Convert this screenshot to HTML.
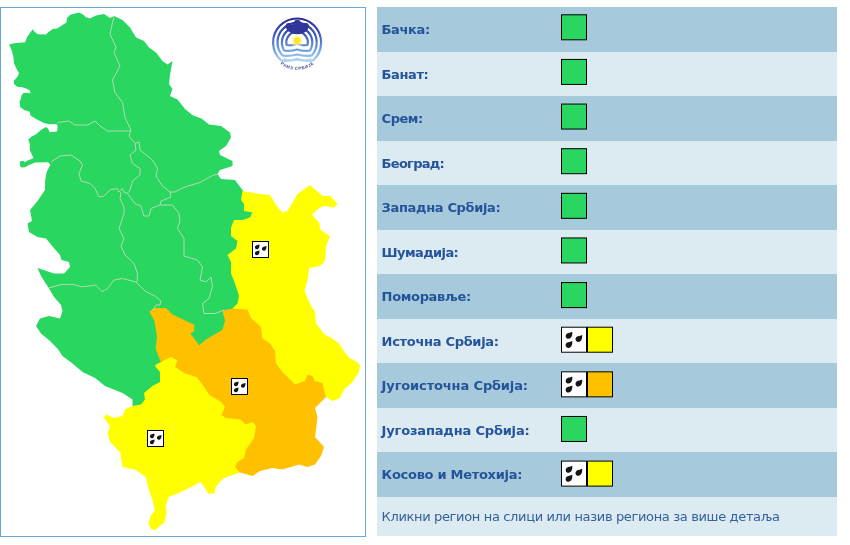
<!DOCTYPE html>
<html lang="sr"><head><meta charset="utf-8"><title>Упозорења</title>
<style>
html,body{margin:0;padding:0;background:#fff}
body{width:850px;height:545px;position:relative;overflow:hidden;font-family:"DejaVu Sans","Liberation Sans",sans-serif}
#map{position:absolute;left:0;top:7px;width:364px;height:528px;border:1px solid #6aa8da;background:#fff;overflow:hidden}
#tbl{position:absolute;left:377.300px;top:0;width:459.700px;height:545px}
.row{position:absolute;left:0;width:100%;height:44.500px}
.lb{position:absolute;left:4.300px;top:0;height:44.500px;line-height:45.500px;font-size:13px;font-weight:bold;color:#24549a;white-space:nowrap}
.sq{position:absolute;width:24px;height:24px;border:1px solid #000}
#ft{position:absolute;left:0;top:496.800px;width:100%;height:39.500px;background:#dceaf2}
#ft span{position:absolute;left:4.300px;top:0;line-height:39.500px;font-size:13px;color:#35619a;white-space:nowrap;letter-spacing:-0.350px}
</style></head><body>
<div id="map"><svg width="364" height="528" viewBox="1 8 364 528" style="position:absolute;left:1px;top:1px">
<g>
<polygon points="8.15,43.4 13.1,42.3 24.1,41.2 26.3,35.7 31.8,28.2 34,31.3 36.8,33.3 45,33.5 47.2,31.3 51.6,28 56,27.5 60.4,24.7 65.4,21.4 66.1,17 69.2,13.7 78,11.5 82.4,13.7 84.6,15.9 88.8,17.55 95,14.5 103,13 109,17 113,15 121.5,19 129,26.5 135,36.5 143,40 148,46.5 155,51.5 161.5,60 166.5,63.5 171.5,60 169,74 168,83 171.5,88 169,95 176.5,98.5 184,108 192,114.5 200.5,117.5 208,123.5 220,125 229,131.5 230,136.5 225,145 218,150 219,154 231.5,160 231.5,165 219,169 216.5,173 220,178 234,179 241.5,189 246,196 247,206 255,209 253,219 245,223 236,223 234,231 240,239 239,249 231,255 234,261 234,272 238,282 242,295 240,305 235,311 226,313 228,320 225,331 207,342 198,349 185,333 189,328 170,318 164,311 155,311 153,312 157,320 160,335 159,348 164,360 159,366 163,371 163,383 154,388 147,394 148,399 142,407 135,408 131.5,405 131.5,398.5 121.5,392 104,385 94,377 81.5,371 71.5,362.5 61.5,355 56.5,347.5 49,340 40,332.5 35,325 39,317.5 48,315 59,317.5 61.5,310 60,304 53,296 48,287.5 40,275 36.5,267 53,272.5 63,272.5 69,266 68,261 60.5,259 59,254 52,246 45,237.5 36.5,236 28,231 26.5,222.5 31,220 29,209 36.5,200 44,189 44.2,179 45.7,171 49.4,163.6 47,161.2 34,161.5 27.5,164.3 24,166.3 20.5,166.5 19,165 19,160.5 22.2,159.8 23.9,161.3 26.6,159.5 32.5,157.3 31.8,155.5 28.8,149 28.8,143 27.3,138.6 30.3,135.7 34.7,133.5 40.6,128.4 45,126 47,127.6 48.6,131.3 56,130.5 56.7,125.4 56,123.2 48,123.2 43,122 35,118 29.5,114.4 28.8,110.7 23.7,109.3 19.3,106.3 18.5,100 19.55,98.95 20.65,94 22.85,91.8 29.45,92.35 28.9,89.6 25.05,87.4 21.2,86.3 16.25,85.75 12.95,83 12.95,79.7 16.8,75.3 17.9,72 15.7,68.15 12.95,62.1 12.4,55.5 10.75,49.45" fill="#29d660"/>
<polygon points="241.5,190 259,193 269,194 275,204 281.5,211.5 286.5,210 291.5,201.5 296.5,193 309,184 321.5,195 329,195 336.5,203 333,206.5 324,205 319,206.5 311,213.5 314.3,217.5 318.3,221.8 319,228.2 323,231.2 329,235.3 325,245 324.2,258.5 322.5,262.3 318,265.3 308.3,267 306.5,279 303.5,290 308,301 314,311 315,322.5 323.7,333.5 330.8,337.3 338,342.5 342.6,349.8 348.4,357 355.8,360.8 359,364.7 358,371 351.5,381 343,388.5 339,397 331.5,400 325,396 319,399 299,391 274,377 264,351 249,326 239,312 231.5,307.5 236.5,302.5 238,295 234,282.5 230,272.5 230,261 226.5,254 235,247.5 236.5,240 230,235 230,226.5 233,219 241.5,219 249,216.5 251.5,211.5 243,210 243,203 240,199 241.5,190" fill="#ffff00"/>
<polygon points="231.5,307.5 246.5,308.5 250,317 260,326 261.5,337.5 269,342.5 274,350 275,362.5 281.5,371 294,383.5 304,380 306.5,373.5 311.5,375 314,380 321.5,382 323,388.5 325,396 314,407 316.5,416 314,436 323,446 320,455 314,463.5 306.5,466 298,463.5 281.5,468.5 271.5,467 259,470 251.5,475 239,471.5 231,467 229,454 239,439 239,427 219,421 214,404 199,394 189,379 171,369 167,361 159.5,360.5 154.7,348 156,335.2 153.4,319.8 148.3,310.8 153.4,307 165,307 171.4,313.4 193.2,323.7 193.2,330 189.4,332.7 198.4,344.2 205,338.5 221.5,328.8 224,319.8 221.5,309.5" fill="#ffc000"/>
<polygon points="155,363.5 170,356 176.5,359.6 174,366 184,372.5 196,376.3 203.5,386.6 208.6,394.3 220,400.7 224,406 220.5,414 225,417 239,418.5 245,423.5 251.5,421 255,425 253,437 245,448.5 243,457 236.5,461 234,466 239,471.5 231.5,474 222,477.5 214.5,486 213.6,492.5 207,492.5 204,487 199.5,481 192,485 179,491.5 167.5,496 164.6,505 165.6,510.5 163.7,521 154,529 149.6,528 147.7,521.7 149.6,515 154,509.5 151.5,499 147.7,488 145,476.5 135,469 121.5,466 119,451 109,441 106.5,432 109,425 103,417 105,413.5 113,417 121.5,415 124,408.5 131.5,405 140,403.5 144,398.5 143,392 151.5,385 159,381 159,371 154,365" fill="#ffff00"/>
<g fill="none" stroke="#b2dbae" stroke-width="1" stroke-linejoin="round">
<polyline points="113,15 109,33 115,46.5 113,51.5 119,65 111.5,79 114,91.5 121.5,101.5 124,116.5 130,129 128,135 134,142.5 138,141 139,149 151.5,159 156.5,167.5 155,175 161.5,185 169,191 174,191 180,187.7 187,185 199,181.5 211.5,174.5 216.5,173"/><polyline points="56.5,121.5 68,120 74,124 86.5,124 94,120 99,125 106.5,130 119,130 129,130"/><polyline points="134,142.5 135,149 129,154 131.5,162.5 139,167.5 139,174 131.5,180 129,189 126.5,192.5 134,202.5 140,205 143,215 148,215 150,207.5 159,204 160,200 170,196 169,191"/><polyline points="50,161 59,155 70,154 79,160 81.5,164 78,172.5 80,180 89,182.5 94,187.5 98,196 103,195 109,189 116.5,187.5 118,191 121.5,187.5 123,191 126.5,192.5"/><polyline points="120,191 119,197.5 123,206 123,212.5 118,227.5 123,237.5 120,245 124,254 133,262.5 136.5,272.5 136,281"/><polyline points="159,204 171.5,204 178,212.5 179,220 176.5,227.5 183,237.5 183,255 196.5,259 201.5,266 199,279 205,281 210,276 211.5,285 208,297.5 201.5,302.5 203,312.5 214,312.5 223,309"/><polyline points="48,287 60,283.5 72,283.3 80.5,285.8 91,284.6 94.5,284 101,290.5 106.5,287.8 113,279 121.5,277.5 135,281 144,290 154,295 160,300 159,304 155,304 151.5,309"/>
</g>
</g>
<rect x="251.5" y="240.5" width="16" height="16" fill="#fff" stroke="#000" stroke-width="1"/><path d="M258.40,243.52 C258.75,245.37 258.05,248.28 255.85,248.28 C253.82,248.28 253.38,245.90 254.70,244.84 C255.76,244.05 257.52,244.14 258.40,243.52Z" fill="#161616"/><path d="M265.40,245.02 C265.75,246.87 265.05,249.78 262.85,249.78 C260.82,249.78 260.38,247.40 261.70,246.34 C262.76,245.55 264.52,245.64 265.40,245.02Z" fill="#161616"/><path d="M258.40,249.42 C258.75,251.27 258.05,254.18 255.85,254.18 C253.82,254.18 253.38,251.80 254.70,250.74 C255.76,249.95 257.52,250.04 258.40,249.42Z" fill="#161616"/><rect x="230.5" y="377.5" width="16" height="16" fill="#fff" stroke="#000" stroke-width="1"/><path d="M237.40,380.52 C237.75,382.37 237.05,385.28 234.85,385.28 C232.82,385.28 232.38,382.90 233.70,381.84 C234.76,381.05 236.52,381.14 237.40,380.52Z" fill="#161616"/><path d="M244.40,382.02 C244.75,383.87 244.05,386.78 241.85,386.78 C239.82,386.78 239.38,384.40 240.70,383.34 C241.76,382.55 243.52,382.64 244.40,382.02Z" fill="#161616"/><path d="M237.40,386.42 C237.75,388.27 237.05,391.18 234.85,391.18 C232.82,391.18 232.38,388.80 233.70,387.74 C234.76,386.95 236.52,387.04 237.40,386.42Z" fill="#161616"/><rect x="146.5" y="429.5" width="16" height="16" fill="#fff" stroke="#000" stroke-width="1"/><path d="M153.40,432.52 C153.75,434.37 153.05,437.28 150.85,437.28 C148.82,437.28 148.38,434.90 149.70,433.84 C150.76,433.05 152.52,433.14 153.40,432.52Z" fill="#161616"/><path d="M160.40,434.02 C160.75,435.87 160.05,438.78 157.85,438.78 C155.82,438.78 155.38,436.40 156.70,435.34 C157.76,434.55 159.52,434.64 160.40,434.02Z" fill="#161616"/><path d="M153.40,438.42 C153.75,440.27 153.05,443.18 150.85,443.18 C148.82,443.18 148.38,440.80 149.70,439.74 C150.76,438.95 152.52,439.04 153.40,438.42Z" fill="#161616"/>
<g transform="translate(-1.1,-0.5)">
<defs><linearGradient id="lg" gradientUnits="userSpaceOnUse" x1="0" y1="18" x2="0" y2="62"><stop offset="0" stop-color="#2b2f96"/><stop offset="0.35" stop-color="#3b55b8"/><stop offset="0.7" stop-color="#6f9fe0"/><stop offset="1" stop-color="#b5d6f5"/></linearGradient>
<radialGradient id="sg" gradientUnits="userSpaceOnUse" cx="297.2" cy="40" r="8"><stop offset="0.3" stop-color="#fff27a"/><stop offset="1" stop-color="#ffffff" stop-opacity="0"/></radialGradient></defs>
<path d="M281.14,59.84 A24.00,24.00 0 1 1 313.26,59.84 Q306.03,61.28 297.20,58.94 Q288.37,61.28 281.14,59.84Z" fill="none" stroke="url(#lg)" stroke-width="2.2" stroke-linejoin="round"/>
<path d="M282.41,54.86 A19.60,19.60 0 1 1 311.99,54.86 Q305.34,56.30 297.20,53.96 Q289.06,56.30 282.41,54.86Z" fill="none" stroke="url(#lg)" stroke-width="2.2" stroke-linejoin="round"/>
<path d="M284.17,49.83 A15.20,15.20 0 1 1 310.23,49.83 Q304.37,51.27 297.20,48.93 Q290.03,51.27 284.17,49.83Z" fill="none" stroke="url(#lg)" stroke-width="2.2" stroke-linejoin="round"/>
<path d="M286.64,44.25 A10.80,10.80 0 1 1 307.76,44.25 Q303.01,45.69 297.20,43.35 Q291.39,45.69 286.64,44.25Z" fill="none" stroke="url(#lg)" stroke-width="2.2" stroke-linejoin="round"/>
<path d="M283.5,58.300 Q290,60.800 297.200,57.800 Q304.500,60.800 311,58.300" fill="none" stroke="#b5d6f5" stroke-width="1.6"/>
<circle cx="297.2" cy="40" r="8" fill="url(#sg)"/>
<path d="M285.8,24.800 Q286.500,22.100 289.300,22.500 Q291.700,22.300 292.800,24.300 Q294,19.300 297.400,19.200 Q300.800,19.300 302,24.300 Q303.100,22.300 305.500,22.500 Q308.300,22.100 309,24.800 Q309.200,28 307.200,30 Q303.500,33.700 297.400,33.700 Q291.300,33.700 287.600,30 Q285.600,28 285.800,24.800Z" fill="#30359a"/>
<polygon points="297.20,35.70 298.23,37.51 300.24,36.96 299.69,38.97 301.50,40.00 299.69,41.03 300.24,43.04 298.23,42.49 297.20,44.30 296.17,42.49 294.16,43.04 294.71,41.03 292.90,40.00 294.71,38.97 294.16,36.96 296.17,37.51" fill="#ffe61e"/>
<path id="lt" d="M276.91,60.27 A27.3,27.3 0 0 0 317.49,60.27" fill="none"/>
<text font-family="'Liberation Sans',sans-serif" font-size="4.200" font-weight="bold" fill="#3b3f8c" letter-spacing="0.600" text-anchor="middle"><textPath href="#lt" startOffset="50.5%">РХМЗ СРБИЈЕ</textPath></text>
</g>
</svg></div>
<div id="tbl">
<div class="row" style="top:7.3px;background:#a6c9dc"><span class="lb" style="letter-spacing:-0.381px">Бачка:</span></div>
<div class="row" style="top:51.8px;background:#dceaf2"><span class="lb" style="letter-spacing:-0.394px">Банат:</span></div>
<div class="row" style="top:96.3px;background:#a6c9dc"><span class="lb" style="letter-spacing:-0.500px">Срем:</span></div>
<div class="row" style="top:140.8px;background:#dceaf2"><span class="lb" style="letter-spacing:-0.719px">Београд:</span></div>
<div class="row" style="top:185.3px;background:#a6c9dc"><span class="lb" style="letter-spacing:-0.340px">Западна Србија:</span></div>
<div class="row" style="top:229.8px;background:#dceaf2"><span class="lb" style="letter-spacing:-0.596px">Шумадија:</span></div>
<div class="row" style="top:274.3px;background:#a6c9dc"><span class="lb" style="letter-spacing:-0.331px">Поморавље:</span></div>
<div class="row" style="top:318.8px;background:#dceaf2"><span class="lb" style="letter-spacing:-0.298px">Источна Србија:</span></div>
<div class="row" style="top:363.3px;background:#a6c9dc"><span class="lb" style="letter-spacing:-0.136px">Југоисточна Србија:</span></div>
<div class="row" style="top:407.8px;background:#dceaf2"><span class="lb" style="letter-spacing:-0.173px">Југозападна Србија:</span></div>
<div class="row" style="top:452.3px;background:#a6c9dc"><span class="lb" style="letter-spacing:-0.286px">Косово и Метохија:</span></div>
<div id="ft"><span>Кликни регион на слици или назив региона за више детаља</span></div>
</div>
<svg width="850" height="545" viewBox="0 0 850 545" style="position:absolute;left:0;top:0"><rect x="561.50" y="14.80" width="25" height="25" fill="#29d660" stroke="#000" stroke-width="1"/><rect x="561.50" y="59.43" width="25" height="25" fill="#29d660" stroke="#000" stroke-width="1"/><rect x="561.50" y="104.06" width="25" height="25" fill="#29d660" stroke="#000" stroke-width="1"/><rect x="561.50" y="148.69" width="25" height="25" fill="#29d660" stroke="#000" stroke-width="1"/><rect x="561.50" y="193.32" width="25" height="25" fill="#29d660" stroke="#000" stroke-width="1"/><rect x="561.50" y="237.95" width="25" height="25" fill="#29d660" stroke="#000" stroke-width="1"/><rect x="561.50" y="282.58" width="25" height="25" fill="#29d660" stroke="#000" stroke-width="1"/><rect x="561.50" y="327.21" width="25" height="25" fill="#fff" stroke="#000" stroke-width="1"/><rect x="587.50" y="327.21" width="25" height="25" fill="#ffff00" stroke="#000" stroke-width="1"/><path d="M572.25,331.80 C572.77,334.53 571.73,338.82 568.48,338.82 C565.49,338.82 564.84,335.31 566.79,333.75 C568.35,332.58 570.95,332.71 572.25,331.80Z" fill="#161616"/><path d="M582.10,334.90 C582.62,337.63 581.58,341.92 578.33,341.92 C575.34,341.92 574.69,338.41 576.64,336.85 C578.20,335.68 580.80,335.81 582.10,334.90Z" fill="#161616"/><path d="M572.20,340.90 C572.72,343.63 571.68,347.92 568.43,347.92 C565.44,347.92 564.79,344.41 566.74,342.85 C568.30,341.68 570.90,341.81 572.20,340.90Z" fill="#161616"/><rect x="561.50" y="371.84" width="25" height="25" fill="#fff" stroke="#000" stroke-width="1"/><rect x="587.50" y="371.84" width="25" height="25" fill="#ffc000" stroke="#000" stroke-width="1"/><path d="M572.25,376.43 C572.77,379.16 571.73,383.45 568.48,383.45 C565.49,383.45 564.84,379.94 566.79,378.38 C568.35,377.21 570.95,377.34 572.25,376.43Z" fill="#161616"/><path d="M582.10,379.53 C582.62,382.26 581.58,386.55 578.33,386.55 C575.34,386.55 574.69,383.04 576.64,381.48 C578.20,380.31 580.80,380.44 582.10,379.53Z" fill="#161616"/><path d="M572.20,385.53 C572.72,388.26 571.68,392.55 568.43,392.55 C565.44,392.55 564.79,389.04 566.74,387.48 C568.30,386.31 570.90,386.44 572.20,385.53Z" fill="#161616"/><rect x="561.50" y="416.47" width="25" height="25" fill="#29d660" stroke="#000" stroke-width="1"/><rect x="561.50" y="461.10" width="25" height="25" fill="#fff" stroke="#000" stroke-width="1"/><rect x="587.50" y="461.10" width="25" height="25" fill="#ffff00" stroke="#000" stroke-width="1"/><path d="M572.25,465.69 C572.77,468.42 571.73,472.71 568.48,472.71 C565.49,472.71 564.84,469.20 566.79,467.64 C568.35,466.47 570.95,466.60 572.25,465.69Z" fill="#161616"/><path d="M582.10,468.79 C582.62,471.52 581.58,475.81 578.33,475.81 C575.34,475.81 574.69,472.30 576.64,470.74 C578.20,469.57 580.80,469.70 582.10,468.79Z" fill="#161616"/><path d="M572.20,474.79 C572.72,477.52 571.68,481.81 568.43,481.81 C565.44,481.81 564.79,478.30 566.74,476.74 C568.30,475.57 570.90,475.70 572.20,474.79Z" fill="#161616"/></svg>
</body></html>
